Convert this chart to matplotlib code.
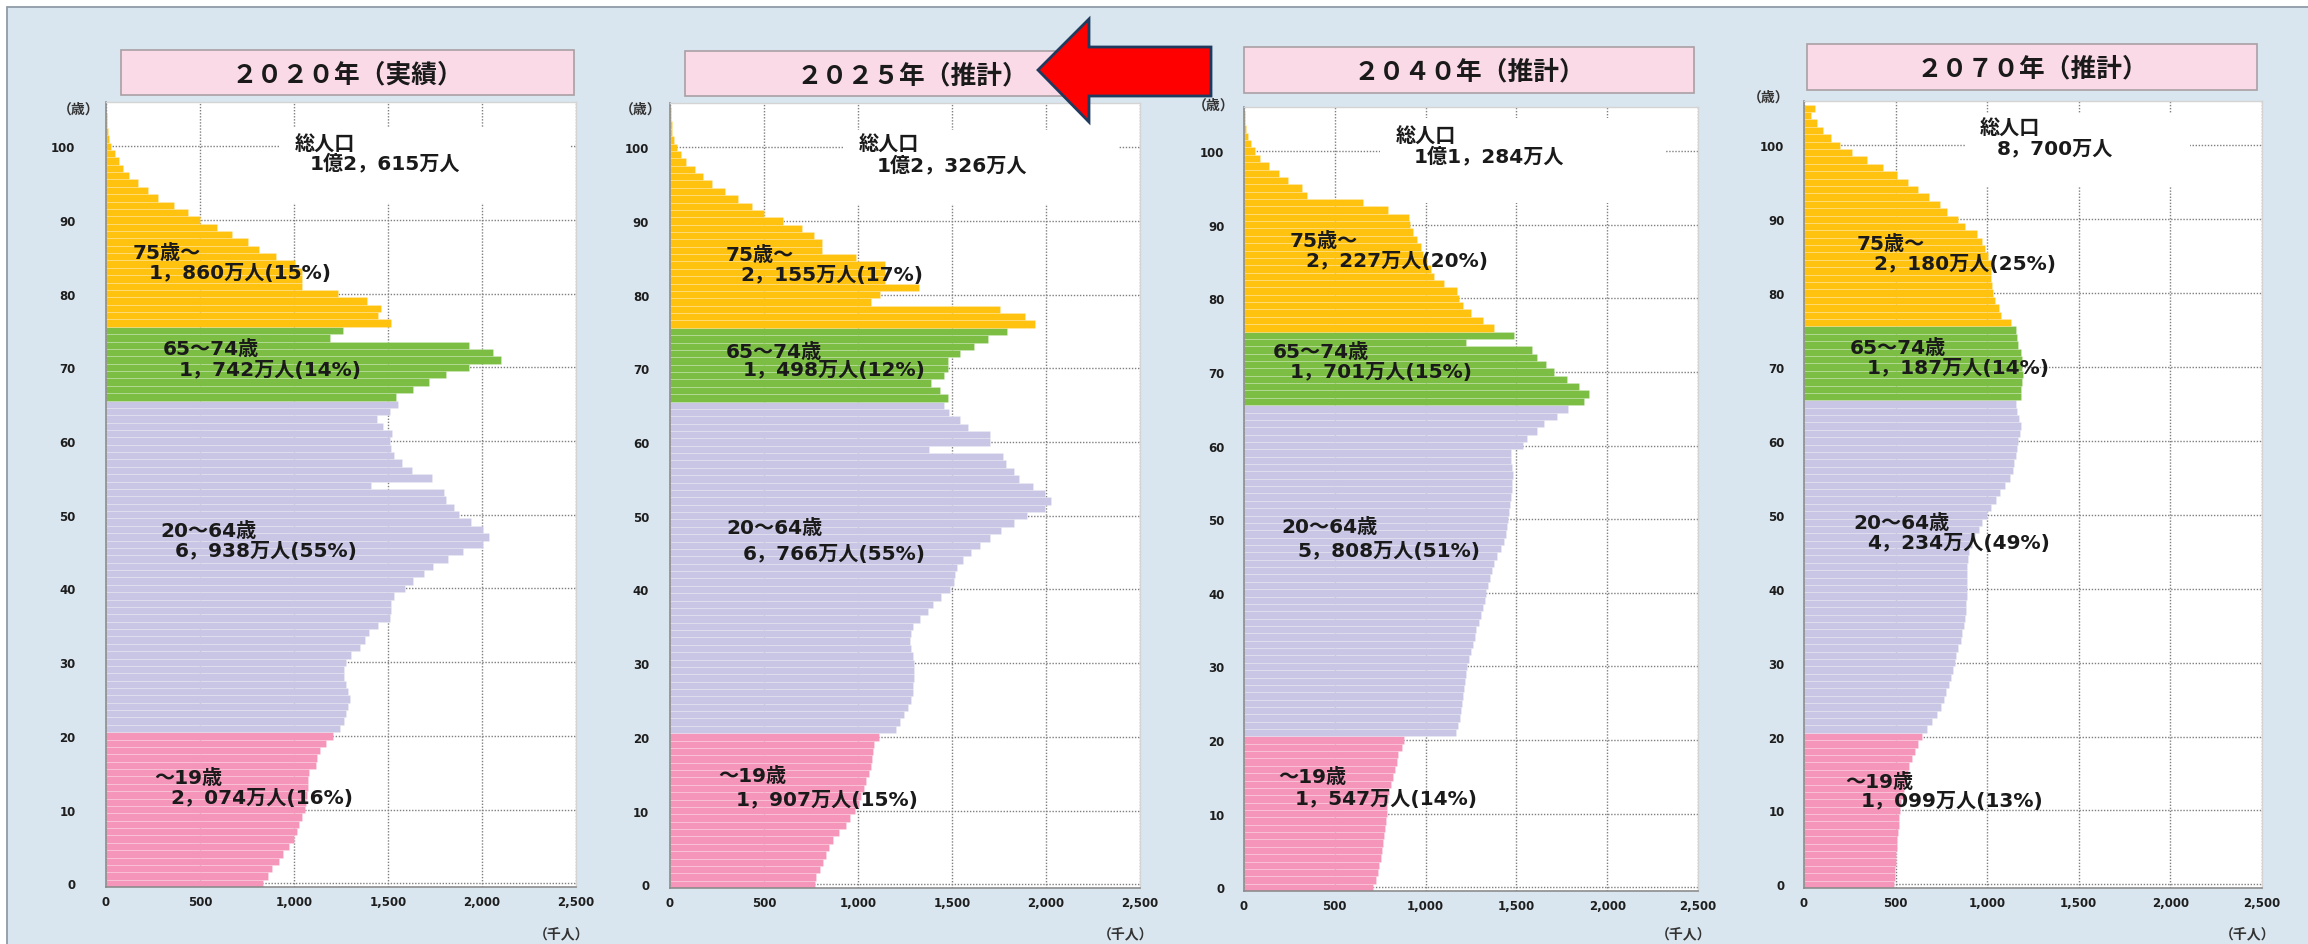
import matplotlib
matplotlib.use("Agg")
import matplotlib.pyplot as plt
from matplotlib.patches import Rectangle, Polygon

plt.rcParams['font.family'] = ['DejaVu Sans', 'Noto Sans CJK JP']

# ---------------- data ----------------
AGES = list(range(106))
GROUP_STARTS = [21, 66, 76]          # first bar position of 20-64, 65-74, 75+ bands
GROUP_COLORS = ['#F595BA', '#C9C6E5', '#7BBE43', '#FFC20E']

POP_2020 = [837, 861, 882, 918, 943, 973, 1000, 1014, 1028, 1044,
            1061, 1065, 1071, 1075, 1075, 1081, 1116, 1122, 1136, 1171,
            1207, 1244, 1268, 1279, 1285, 1299, 1289, 1279, 1268, 1268,
            1279, 1305, 1350, 1380, 1401, 1448, 1509, 1517, 1517, 1533,
            1590, 1635, 1692, 1737, 1818, 1900, 2005, 2038, 2005, 1940,
            1879, 1849, 1808, 1798, 1407, 1733, 1625, 1574, 1533, 1517,
            1509, 1523, 1472, 1441, 1509, 1553, 1543, 1631, 1716, 1808,
            1930, 2099, 2058, 1930, 1191, 1258, 1517, 1448, 1462, 1386,
            1234, 1044, 1044, 1044, 1004, 906, 812, 755, 668, 592,
            499, 434, 362, 279, 226, 169, 120, 92, 67, 47,
            26, 14, 8, 5, 3, 2]

POP_2025 = [771, 776, 798, 815, 830, 845, 868, 900, 935, 960,
            985, 1005, 1018, 1030, 1045, 1061, 1068, 1075, 1080, 1085,
            1110, 1200, 1225, 1245, 1265, 1280, 1290, 1295, 1300, 1300,
            1300, 1290, 1280, 1275, 1280, 1295, 1330, 1370, 1400, 1440,
            1490, 1510, 1515, 1525, 1560, 1600, 1650, 1700, 1760, 1830,
            1900, 1995, 2025, 1995, 1930, 1857, 1829, 1787, 1772, 1380,
            1703, 1703, 1587, 1540, 1485, 1456, 1481, 1435, 1386, 1460,
            1477, 1477, 1545, 1618, 1692, 1794, 1939, 1886, 1756, 1070,
            1118, 1323, 1144, 1144, 1144, 992, 806, 806, 764, 701,
            599, 500, 437, 363, 295, 226, 177, 131, 84, 57,
            36, 21, 13, 8, 5, 3]

POP_2040 = [710, 727, 738, 743, 754, 760, 765, 770, 775, 780,
            785, 790, 795, 800, 810, 820, 830, 840, 850, 870,
            880, 1170, 1180, 1190, 1195, 1200, 1205, 1210, 1215, 1220,
            1230, 1240, 1250, 1260, 1270, 1280, 1295, 1305, 1315, 1325,
            1335, 1345, 1355, 1365, 1375, 1395, 1415, 1430, 1440, 1450,
            1455, 1460, 1465, 1470, 1475, 1478, 1480, 1476, 1470, 1468,
            1538, 1559, 1612, 1654, 1722, 1785, 1870, 1898, 1844, 1776,
            1707, 1665, 1612, 1586, 1225, 1489, 1375, 1316, 1252, 1206,
            1184, 1172, 1104, 1045, 1030, 1009, 988, 973, 952, 931,
            914, 909, 791, 656, 347, 317, 241, 190, 135, 89,
            63, 36, 21, 13, 6, 4]

POP_2070 = [493, 497, 499, 501, 503, 506, 509, 512, 516, 520,
            526, 532, 540, 547, 555, 565, 575, 590, 604, 623,
            643, 672, 701, 727, 746, 762, 775, 789, 801, 812,
            822, 832, 843, 855, 863, 871, 877, 882, 886, 888,
            890, 890, 890, 890, 894, 902, 916, 935, 955, 974,
            999, 1023, 1046, 1071, 1097, 1125, 1140, 1149, 1155, 1163,
            1169, 1178, 1182, 1175, 1163, 1155, 1182, 1182, 1188, 1194,
            1188, 1188, 1182, 1169, 1163, 1155, 1130, 1077, 1062, 1042,
            1032, 1027, 1023, 1023, 1019, 1003, 988, 974, 945, 877,
            838, 779, 740, 682, 623, 568, 508, 431, 344, 262,
            197, 147, 104, 71, 38, 60]

SERIES = [POP_2020, POP_2025, POP_2040, POP_2070]

TITLES = ['２０２０年（実績）', '２０２５年（推計）', '２０４０年（推計）', '２０７０年（推計）']
TOTALS = ['1億2，615万人', '1億2，326万人', '1億1，284万人', '8，700万人']
GROUP_NAMES = ['75歳～', '65～74歳', '20～64歳', '～19歳']
GROUP_VALUES = [
    ['1，860万人(15%)', '1，742万人(14%)', '6，938万人(55%)', '2，074万人(16%)'],
    ['2，155万人(17%)', '1，498万人(12%)', '6，766万人(55%)', '1，907万人(15%)'],
    ['2，227万人(20%)', '1，701万人(15%)', '5，808万人(51%)', '1，547万人(14%)'],
    ['2，180万人(25%)', '1，187万人(14%)', '4，234万人(49%)', '1，099万人(13%)'],
]
XTICKS = [0, 500, 1000, 1500, 2000, 2500]
XTICK_LABELS = ['0', '500', '1,000', '1,500', '2,000', '2,500']
YTICKS = list(range(0, 101, 10))

# ---------------- layout (pixels of the 2308x945 canvas) ----------------
W, H = 2308, 945
AX_PX = [(106, 576, 103, 888), (670, 1140, 104, 889), (1244, 1698, 108, 892), (1804, 2262, 102, 889)]
TITLE_PX = [(121, 574, 51, 96), (685, 1140, 52, 97), (1244, 1694, 48, 94), (1807, 2257, 45, 91)]
YPAD = [22, 15, 14, 14]
WHITE_BOX = [(920, 92.3, 2468, 102.6), (920, 92.3, 2383, 102.4), (749, 92.9, 2318, 104.5), (879, 94.3, 2107, 104.2)]
TOTAL_POS = [((1005, 100.3), (1085, 97.8)), ((1005, 100.4), (1101, 97.7)),
             ((837, 102.0), (936, 99.4)), ((961, 102.3), (1053, 99.6))]
GROUP_POS = [
    [((144, 85.6), (229, 82.9)), ((303, 72.5), (388, 69.7)), ((287, 47.9), (367, 45.2)), ((255, 14.4), (340, 11.7))],
    [((298, 85.4), (372, 82.7)), ((298, 72.3), (388, 69.8)), ((298, 48.4), (388, 44.9)), ((255, 14.7), (351, 11.5))],
    [((253, 87.9), (336, 85.2)), ((160, 72.8), (253, 70.1)), ((204, 49.0), (297, 45.7)), ((187, 15.1), (281, 12.1))],
    [((289, 86.7), (377, 84.0)), ((251, 72.6), (344, 69.9)), ((267, 48.9), (344, 46.3)), ((224, 13.9), (311, 11.3))],
]
UNIT_Y_PX = [110, 110, 106, 98]
UNIT_X_GAP = [7, 9, 10, 15]


def fx(x):
    return x / W


def fy(y):
    return 1 - y / H


def band_color(age):
    idx = sum(1 for s in GROUP_STARTS if age >= s)
    return GROUP_COLORS[idx]


fig = plt.figure(figsize=(W / 100, H / 100), dpi=100, facecolor='white')
fig.patches.append(Rectangle((fx(7), -0.01), 1.0, fy(8) + 0.01, transform=fig.transFigure,
                             facecolor='#DAE6EF', edgecolor='#8F9BA6', linewidth=1.3, zorder=-10))

TXT = dict(color='#1a1a1a', fontweight='bold', fontsize=14.5)

for i, vals in enumerate(SERIES):
    L, R, T, B = AX_PX[i]
    ax = fig.add_axes([fx(L), fy(B), (R - L) / W, (B - T) / H])
    ax.set_zorder(2)
    ax.set_facecolor('white')
    ax.barh(AGES, vals, height=1.0, color=[band_color(a) for a in AGES],
            edgecolor=(1, 1, 1, 0.28), linewidth=0.45, zorder=2)
    ax.set_xlim(0, 2500)
    ax.set_ylim(-0.5, 106)
    ax.set_xticks(XTICKS)
    ax.set_xticklabels(XTICK_LABELS)
    ax.set_yticks(YTICKS)
    ax.set_axisbelow(True)
    ax.grid(True, color='#7f7f7f', linestyle=(0, (1, 1.2)), linewidth=1.0)
    ax.tick_params(axis='both', length=0, labelsize=8.5, labelcolor='#1e1e1e')
    ax.tick_params(axis='x', pad=6)
    ax.tick_params(axis='y', pad=YPAD[i])
    for lab in ax.get_xticklabels() + ax.get_yticklabels():
        lab.set_fontweight('bold')
    for side in ['left', 'bottom']:
        ax.spines[side].set_color('#8c8c8c')
        ax.spines[side].set_linewidth(1.2)
    for side in ['top', 'right']:
        ax.spines[side].set_color('#d4d4d4')
        ax.spines[side].set_linewidth(1.0)

    x0, y0, x1, y1 = WHITE_BOX[i]
    ax.add_patch(Rectangle((x0, y0), x1 - x0, y1 - y0, facecolor='white', edgecolor='none', zorder=1))

    (tx1, ty1), (tx2, ty2) = TOTAL_POS[i]
    ax.text(tx1, ty1, '総人口', ha='left', va='center', zorder=5, **TXT)
    ax.text(tx2, ty2, TOTALS[i], ha='left', va='center', zorder=5, **TXT)
    for g in range(4):
        (gx1, gy1), (gx2, gy2) = GROUP_POS[i][g]
        ax.text(gx1, gy1, GROUP_NAMES[g], ha='left', va='center', zorder=5, **TXT)
        ax.text(gx2, gy2, GROUP_VALUES[i][g], ha='left', va='center', zorder=5, **TXT)

    # unit labels
    fig.text(fx(L - UNIT_X_GAP[i]), fy(UNIT_Y_PX[i]), '（歳）', ha='right', va='center',
             fontsize=10, fontweight='bold', color='#333333')
    fig.text(fx(R + 13), fy(935), '（千人）', ha='right', va='center',
             fontsize=10, fontweight='bold', color='#333333')

    # title box
    bx0, bx1, by0, by1 = TITLE_PX[i]
    fig.patches.append(Rectangle((fx(bx0), fy(by1)), (bx1 - bx0) / W, (by1 - by0) / H,
                                 transform=fig.transFigure, facecolor='#FADAE7',
                                 edgecolor='#A9A0A4', linewidth=1.2, zorder=1))
    fig.text(fx((bx0 + bx1) / 2), fy((by0 + by1) / 2 + 1), TITLES[i], ha='center', va='center',
             fontsize=18.5, fontweight='bold', color='#1a1a1a', family=['Noto Sans CJK JP'], zorder=2)

# red arrow pointing at the 2025 panel
arrow_px = [(1038, 71), (1089, 20), (1089, 48), (1211, 48), (1211, 97), (1089, 97), (1089, 123)]
fig.patches.append(Polygon([(fx(x), fy(y)) for x, y in arrow_px], closed=True,
                           transform=fig.transFigure, facecolor='#FF0000',
                           edgecolor='#1F3A5F', linewidth=2.0, zorder=10))

fig.savefig('out.png', dpi=100, facecolor=fig.get_facecolor())
